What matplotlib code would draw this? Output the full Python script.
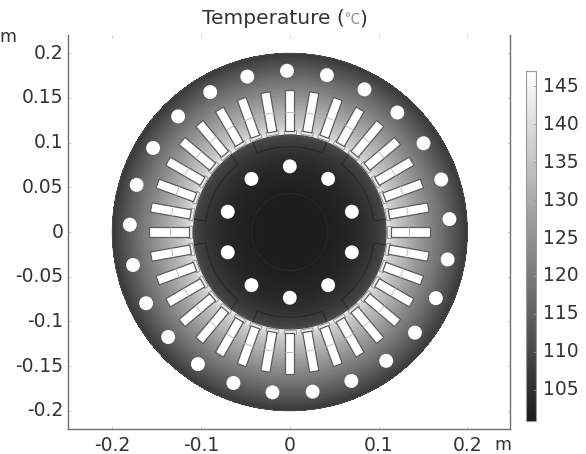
import numpy as np
import matplotlib
matplotlib.use("Agg")
import matplotlib.pyplot as plt
from matplotlib.colors import LinearSegmentedColormap, Normalize
from matplotlib.cm import ScalarMappable
from matplotlib.patches import Circle, Polygon

# --- data ---
radius_nodes = [0.0, 0.02, 0.04, 0.055, 0.07, 0.085, 0.095, 0.102, 0.1075, 0.1085, 0.1095, 0.113, 0.12, 0.13, 0.14, 0.15, 0.16, 0.17, 0.18, 0.19, 0.2]
temp_nodes = [101.2, 101.3, 101.6, 102.2, 103.0, 104.8, 106.4, 108.0, 109.5, 112.0, 143.0, 139.0, 135.5, 132.0, 128.5, 125.0, 121.5, 118.0, 114.2, 110.5, 106.5]
temp_min, temp_max = 100.9, 147.0
temp_ticks = [105, 110, 115, 120, 125, 130, 135, 140, 145]
x_ticks = [-0.2, -0.1, 0, 0.1, 0.2]
x_labels = ["-0.2", "-0.1", "0", "0.1", "0.2"]
y_ticks = [-0.2, -0.15, -0.1, -0.05, 0, 0.05, 0.1, 0.15, 0.2]
y_labels = ["-0.2", "-0.15", "-0.1", "-0.05", "0", "0.05", "0.1", "0.15", "0.2"]
stator_hole_deg = [91.0, 76.6, 62.2, 47.8, 33.4, 19.0, 4.6, -9.8, -24.2, -38.6, -53.0, -67.4, -81.8,
                   -96.2, -110.6, -125.0, -139.4, -153.8, -168.2, -182.6, -197.0, -211.4, -225.8, -240.2, -254.6]
rotor_hole_deg = [90, 54, 18, -18, -54, -90, -126, -162, -198, -234]
slot_deg = [0, 10, 20, 30, 40, 50, 60, 70, 80, 90, 100, 110, 120, 130, 140, 150, 160, 170,
            180, 190, 200, 210, 220, 230, 240, 250, 260, 270, 280, 290, 300, 310, 320, 330, 340, 350]
pole_deg = [90, 30, -30, -90, -150, 150]
stator_r, stator_hole_r, stator_hole_size = 0.2, 0.1805, 0.0078
rotor_r, rotor_hole_r, rotor_hole_size = 0.1085, 0.0735, 0.0078
shaft_r, pole_r, pole_half = 0.043, 0.0955, 22.5
slot_in, slot_mid, slot_out, slot_w = 0.1135, 0.1345, 0.1585, 0.0105
pad_in, pad_w = 0.110, 0.0135

W, H = 586, 454
fig = plt.figure(figsize=(W / 100, H / 100), dpi=100, facecolor="white")
L, R, T, B = 68.3, 510.3, 35.0, 428.7
ax = fig.add_axes([L / W, 1 - B / H, (R - L) / W, (B - T) / H])
cax = fig.add_axes([525.7 / W, 1 - 421 / H, 10 / W, 350 / H])
cmap = LinearSegmentedColormap.from_list("gray_c", ["#1b1b1b", "#ffffff"])
norm = Normalize(temp_min, temp_max)

# temperature field on a polar mesh, shaded by contourf's own interpolation
th = np.radians(np.linspace(0, 360, 361))
rr = np.array(radius_nodes)
tt, rg = np.meshgrid(th, rr)
field = np.tile(np.array(temp_nodes)[:, None], (1, th.size))
ax.contourf(rg * np.cos(tt), rg * np.sin(tt), field, levels=np.linspace(temp_min, temp_max, 231),
            cmap=cmap, norm=norm, antialiased=False, zorder=1)
ax.add_patch(Circle((0, 0), stator_r, fc="none", ec="#4a4a4a", lw=0.7, zorder=2))


def box(a_deg, r0, r1, w):
    a = np.radians(a_deg)
    u, v = np.array([np.cos(a), np.sin(a)]), np.array([-np.sin(a), np.cos(a)])
    return [r0 * u - w / 2 * v, r1 * u - w / 2 * v, r1 * u + w / 2 * v, r0 * u + w / 2 * v]


for a in slot_deg:
    ax.add_patch(Polygon(box(a, pad_in, slot_in + 0.001, pad_w), fc="#ececec", ec="#8a8a8a", lw=0.6, zorder=3))
    ax.add_patch(Polygon(box(a, slot_in, slot_out, slot_w), fc="white", ec="#5c5c5c", lw=0.9, zorder=4))
    p = box(a, slot_mid, slot_mid, slot_w)
    ax.plot([p[0][0], p[3][0]], [p[0][1], p[3][1]], color="#b5b5b5", lw=0.6, zorder=5)

for a in stator_hole_deg:
    c = stator_hole_r * np.cos(np.radians(a)), stator_hole_r * np.sin(np.radians(a))
    ax.add_patch(Circle(c, stator_hole_size, fc="white", ec="none", zorder=5))
for a in rotor_hole_deg:
    c = rotor_hole_r * np.cos(np.radians(a)), rotor_hole_r * np.sin(np.radians(a))
    ax.add_patch(Circle(c, rotor_hole_size, fc="white", ec="none", zorder=5))

# rotor outlines
ax.add_patch(Circle((0, 0), rotor_r, fc="none", ec="#4a4a4a", lw=0.9, zorder=6))
ax.add_patch(Circle((0, 0), shaft_r, fc="none", ec="#2c2c2c", lw=0.5, zorder=6))
for a in pole_deg:
    arc = np.radians(np.linspace(a - pole_half, a + pole_half, 40))
    xs = np.r_[rotor_r * np.cos(arc[0]), pole_r * np.cos(arc), rotor_r * np.cos(arc[-1])]
    ys = np.r_[rotor_r * np.sin(arc[0]), pole_r * np.sin(arc), rotor_r * np.sin(arc[-1])]
    ax.plot(xs, ys, color="#262626", lw=0.7, zorder=6)

# axes
ax.set_xlim(-0.2496, 0.2485)
ax.set_ylim(-0.2201, 0.2205)
ax.set_aspect("auto")
for s in ("left", "right", "bottom"):
    ax.spines[s].set_color("#707070")
    ax.spines[s].set_linewidth(1.0)
ax.spines["top"].set_visible(False)
ax.set_xticks(x_ticks, x_labels)
ax.set_yticks(y_ticks, y_labels)
ax.tick_params(axis="both", which="both", direction="in", length=2.5, width=0.5, color="#bbbbbb",
               labelsize=13.5, labelcolor="#333333", top=True, right=True)
ax.tick_params(axis="x", pad=5)
ax.tick_params(axis="y", pad=3.5)
for lab in ax.get_yticklabels():
    lab.set_verticalalignment("center")

# title in three pieces, the degree sign is a thin, pale wide glyph in the reference
tstyle = dict(va="center", fontsize=14.5, color="#333333")
fig.text(202 / W, 1 - 19 / H, "Temperature (", ha="left", **tstyle)
fig.text(351.5 / W, 1 - 19 / H, "℃", ha="center", va="center", fontsize=11, color="#8c8c8c",
         family="Noto Sans CJK SC", fontweight="light")
fig.text(359.5 / W, 1 - 19 / H, ")", ha="left", **tstyle)
fig.text(8 / W, 1 - 37 / H, "m", ha="center", va="center", fontsize=12.5, color="#333333")
fig.text(503 / W, 1 - 444.5 / H, "m", ha="center", va="center", fontsize=12.5, color="#333333")

# colour bar
cb = fig.colorbar(ScalarMappable(norm=norm, cmap=cmap), cax=cax)
cb.set_ticks(temp_ticks)
cb.ax.tick_params(direction="in", length=2, width=0.5, color="#999999", labelsize=13.5, labelcolor="#333333", pad=5)
for lab in cb.ax.get_yticklabels():
    lab.set_verticalalignment("center")
cb.outline.set_edgecolor("#999999")
cb.outline.set_linewidth(0.8)

fig.savefig("out.png", dpi=100, facecolor="white")
